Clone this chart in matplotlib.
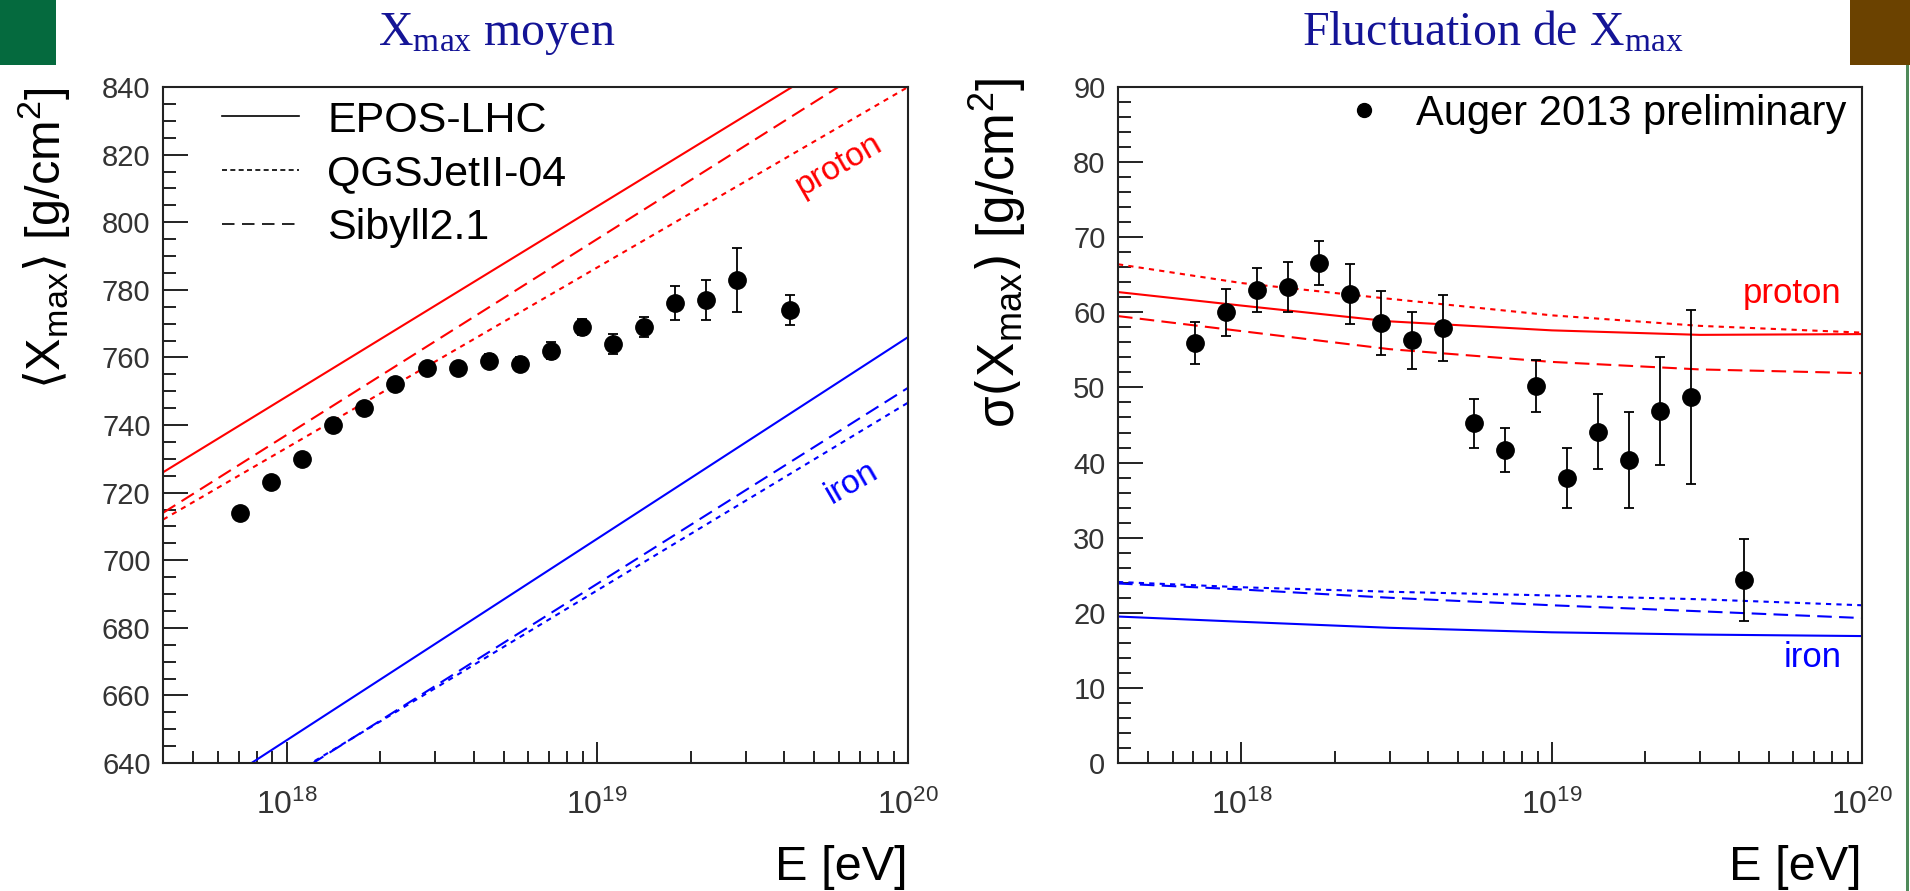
import matplotlib
matplotlib.use("Agg")
from matplotlib import pyplot as plt
from matplotlib.lines import Line2D
from matplotlib.patches import Rectangle
from matplotlib.ticker import MultipleLocator, LogLocator, LogFormatterMathtext, NullFormatter
import numpy as np

plt.rcParams['font.family'] = ['Liberation Sans', 'DejaVu Sans']

# Auger 2013 preliminary data
energy = [7.1e17, 8.9e17, 1.12e18, 1.41e18, 1.78e18, 2.24e18, 2.82e18, 3.55e18, 4.47e18,
          5.62e18, 7.08e18, 8.91e18, 1.12e19, 1.41e19, 1.78e19, 2.24e19, 2.82e19, 4.17e19]
xmax_mean = [714, 723, 730, 740, 745, 752, 757, 757, 759, 758, 762, 769, 764, 769, 776, 777, 783, 774]
xmax_err = [1, 1, 1, 1, 1, 1, 1.5, 1.5, 2, 2, 2.5, 2.5, 3, 3, 5, 6, 9.5, 4.5]
sigma = [55.9, 60.0, 63.0, 63.4, 66.6, 62.4, 58.6, 56.3, 57.9, 45.2, 41.7, 50.2, 38.0, 44.1, 40.3, 46.9, 48.7, 24.4]
sigma_err = [2.8, 3.1, 2.9, 3.3, 2.9, 4.0, 4.3, 3.8, 4.4, 3.2, 2.9, 3.5, 4.0, 5.0, 6.4, 7.2, 11.6, 5.45]

# model predictions <Xmax> (straight lines in log E), values at 4e17 and 1e20
model_E_ends = [4e17, 1e20]
epos_p_mean = [726, 861]
qgs_p_mean = [712, 840]
sib_p_mean = [714, 853]
epos_fe_mean = [623, 766]
qgs_fe_mean = [613.5, 746.6]
sib_fe_mean = [612, 751]

# model predictions sigma(Xmax)
model_E = [4e17, 1e18, 3e18, 1e19, 3e19, 1e20]
epos_p_sig = [62.7, 60.9, 58.8, 57.6, 57.0, 57.1]
qgs_p_sig = [66.4, 63.9, 61.8, 59.6, 58.2, 57.3]
sib_p_sig = [59.5, 57.5, 55.1, 53.4, 52.4, 51.9]
epos_fe_sig = [19.5, 18.8, 18.0, 17.4, 17.1, 16.9]
qgs_fe_sig = [24.1, 23.4, 22.8, 22.3, 21.8, 21.0]
sib_fe_sig = [23.9, 23.1, 22.0, 21.0, 20.2, 19.3]

W, H = 1910, 891
fig = plt.figure(figsize=(W / 100, H / 100), dpi=100)


def box(x0, x1, y0, y1):
    return [x0 / W, 1 - y1 / H, (x1 - x0) / W, (y1 - y0) / H]


SOLID = '-'
DOTTED = (0, (2.5, 2.5))
DASHED = (0, (7, 3.5))


def style_axes(ax, ymaj, ymin):
    ax.set_xscale('log')
    ax.set_xlim(4e17, 1e20)
    ax.xaxis.set_major_locator(LogLocator(base=10))
    ax.xaxis.set_minor_locator(LogLocator(base=10, subs=np.arange(2, 10)))
    ax.xaxis.set_minor_formatter(NullFormatter())
    ax.xaxis.set_major_formatter(LogFormatterMathtext())
    ax.yaxis.set_major_locator(MultipleLocator(ymaj))
    ax.yaxis.set_minor_locator(MultipleLocator(ymin))
    ax.tick_params(which='both', direction='in', top=False, right=False,
                   width=1.4, color='#222222', labelcolor='#333333', labelsize=21)
    ax.tick_params(axis='x', which='major', length=15, pad=19, labelsize=23)
    ax.tick_params(axis='x', which='minor', length=8.5)
    ax.tick_params(axis='y', which='major', length=18, pad=9)
    ax.tick_params(axis='y', which='minor', length=9)
    for s in ax.spines.values():
        s.set_linewidth(1.5)
        s.set_color('#222222')


# ---- left panel: mean Xmax
axL = fig.add_axes(box(163, 908, 87, 763))
style_axes(axL, 20, 5)
axL.set_ylim(640, 840)
axL.plot(model_E_ends, epos_p_mean, color='red', ls=SOLID, lw=1.5)
axL.plot(model_E_ends, qgs_p_mean, color='red', ls=DOTTED, lw=1.5)
axL.plot(model_E_ends, sib_p_mean, color='red', ls=DASHED, lw=1.5)
axL.plot(model_E_ends, epos_fe_mean, color='blue', ls=SOLID, lw=1.5)
axL.plot(model_E_ends, qgs_fe_mean, color='blue', ls=DOTTED, lw=1.5)
axL.plot(model_E_ends, sib_fe_mean, color='blue', ls=DASHED, lw=1.5)
axL.errorbar(energy, xmax_mean, yerr=xmax_err, fmt='o', color='black', ms=12.5,
             elinewidth=1.3, capsize=3.5, capthick=1.3, zorder=5)
axL.text(6.0e19, 817, 'proton', color='red', fontsize=24, rotation=30,
         ha='center', va='center')
axL.text(6.6e19, 723, 'iron', color='blue', fontsize=24, rotation=30,
         ha='center', va='center')
handles = [Line2D([], [], color='black', lw=1.2, ls=SOLID),
           Line2D([], [], color='black', lw=1.2, ls=(0, (3, 2))),
           Line2D([], [], color='black', lw=1.2, ls=(0, (7.5, 4.5)))]
axL.legend(handles, ['EPOS-LHC', 'QGSJetII-04', 'Sibyll2.1'], loc='upper left',
           bbox_to_anchor=(0.079, 0.98), frameon=False, fontsize=31,
           handlelength=1.8, handletextpad=0.65, labelspacing=0.32,
           borderpad=0, borderaxespad=0)

# ---- right panel: sigma(Xmax)
axR = fig.add_axes(box(1118, 1862, 87, 763))
style_axes(axR, 10, 2)
axR.set_ylim(0, 90)
axR.plot(model_E, epos_p_sig, color='red', ls=SOLID, lw=1.5)
axR.plot(model_E, qgs_p_sig, color='red', ls=DOTTED, lw=1.5)
axR.plot(model_E, sib_p_sig, color='red', ls=DASHED, lw=1.5)
axR.plot(model_E, epos_fe_sig, color='blue', ls=SOLID, lw=1.5)
axR.plot(model_E, qgs_fe_sig, color='blue', ls=DOTTED, lw=1.5)
axR.plot(model_E, sib_fe_sig, color='blue', ls=DASHED, lw=1.5)
axR.errorbar(energy, sigma, yerr=sigma_err, fmt='o', color='black', ms=12.5,
             elinewidth=1.3, capsize=3.5, capthick=1.3, zorder=5)
axR.text(8.6e19, 61.2, 'proton', color='red', fontsize=25, ha='right', va='baseline')
axR.text(8.6e19, 12.8, 'iron', color='blue', fontsize=25, ha='right', va='baseline')
axR.legend([Line2D([], [], marker='o', ls='none', color='black', ms=10)],
           ['Auger 2013 preliminary'], loc='upper left',
           bbox_to_anchor=(0.303, 0.99), frameon=False, fontsize=30,
           handlelength=1.0, handletextpad=0.75, borderpad=0, borderaxespad=0)

# axis titles
fig.text(45 / W, 1 - 87 / H,
         r'$\left\langle\mathregular{X_{max}}\right\rangle$ [g/cm$^{\mathregular{2}}$]',
         fontsize=35, rotation=90, ha='center', va='top')
fig.text(998 / W, 1 - 78 / H,
         r'σ$\left(\mathregular{X_{max}}\right)$ [g/cm$^{\mathregular{2}}$]',
         fontsize=37, rotation=90, ha='center', va='top')
fig.text(908 / W, 1 - 880 / H, 'E [eV]', fontsize=35, ha='right', va='baseline')
fig.text(1862 / W, 1 - 880 / H, 'E [eV]', fontsize=35, ha='right', va='baseline')

# slide titles
fig.text(497 / W, 1 - 45 / H, r'$\mathregular{X_{max}}$ moyen', family='Liberation Serif',
         fontsize=34.5, color='#141496', ha='center', va='baseline')
fig.text(1493 / W, 1 - 45 / H, r'Fluctuation de $\mathregular{X_{max}}$', family='Liberation Serif',
         fontsize=34.5, color='#141496', ha='center', va='baseline')

# slide decorations
fig.patches.append(Rectangle((0, 1 - 65 / H), 56 / W, 65 / H, transform=fig.transFigure,
                             facecolor='#056a3e', edgecolor='none'))
fig.patches.append(Rectangle((1850 / W, 1 - 65 / H), 60 / W, 65 / H, transform=fig.transFigure,
                             facecolor='#6b4200', edgecolor='none'))
fig.patches.append(Rectangle((1906 / W, 0), 3 / W, 1 - 65 / H, transform=fig.transFigure,
                             facecolor='#4f8a5a', edgecolor='none'))

fig.savefig('out.png', dpi=100)
